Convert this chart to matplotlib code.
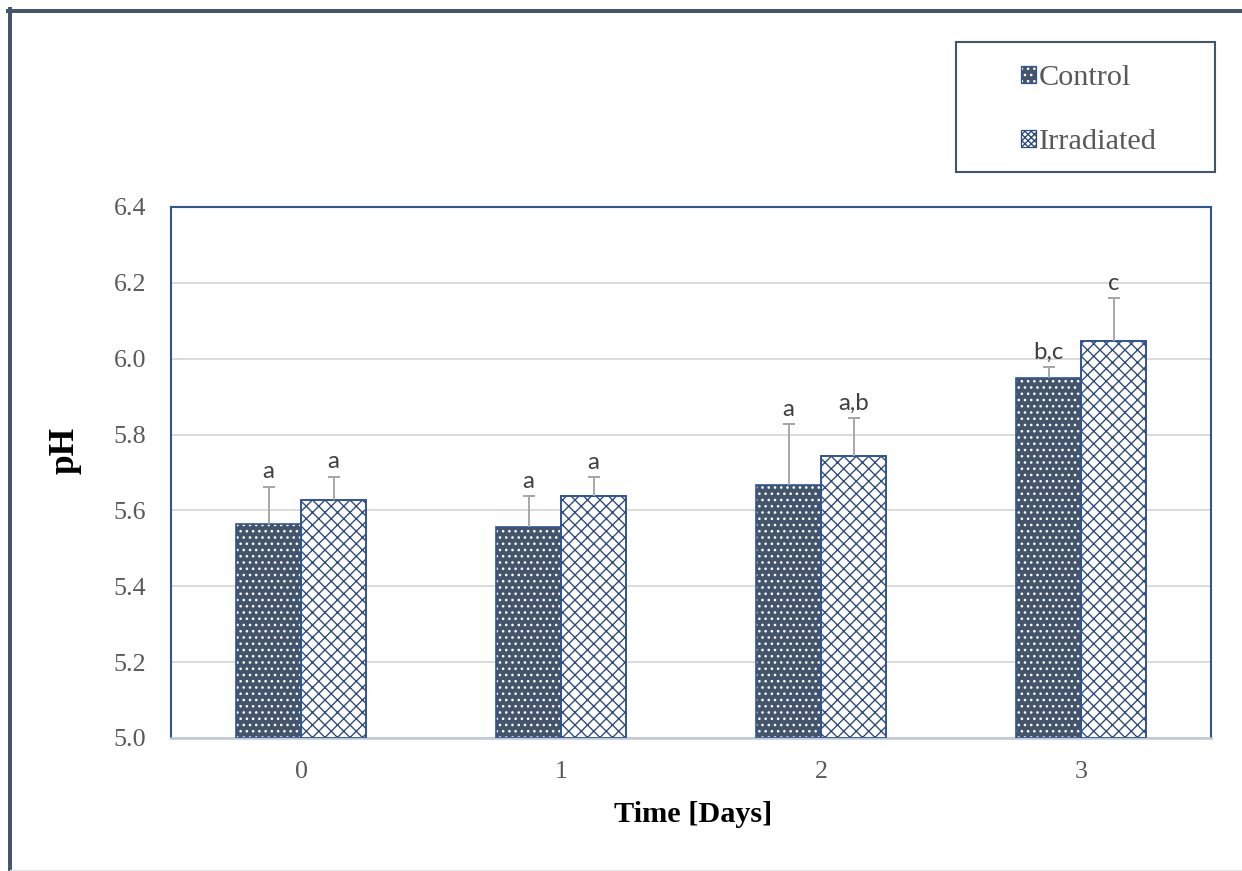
import numpy as np
import matplotlib.pyplot as plt
from matplotlib.patches import Patch, Rectangle
from matplotlib.lines import Line2D
from matplotlib.legend_handler import HandlerTuple

days = ["0", "1", "2", "3"]
control = [5.565, 5.555, 5.667, 5.950]
control_err = [0.098, 0.083, 0.160, 0.027]
irradiated = [5.627, 5.638, 5.743, 6.047]
irradiated_err = [0.062, 0.050, 0.100, 0.112]
control_letters = ["a", "a", "a", "b,c"]
irradiated_letters = ["a", "a", "a,b", "c"]
yticks = [5.0, 5.2, 5.4, 5.6, 5.8, 6.0, 6.2, 6.4]

W, H, DPI = 1242, 871, 75
DARK = "#44546A"
NAVY = "#2F5597"
HATCH = "#2E4A7A"
GREY_TXT = "#595959"

plt.rcParams["hatch.linewidth"] = 1.3

fig = plt.figure(figsize=(W / DPI, H / DPI), dpi=DPI)
ax = fig.add_axes([171 / W, 1 - 738 / H, 1040 / W, 531 / H])

x = np.arange(len(days))
bw = 0.25

# control: dark fill with white dots, navy outline
ax.bar(x - bw / 2, np.array(control) - 5.0, bw, bottom=5.0, color=DARK,
       edgecolor="white", hatch="..", linewidth=0, zorder=2)
ax.bar(x - bw / 2, np.array(control) - 5.0, bw, bottom=5.0, fill=False,
       edgecolor=NAVY, linewidth=1.6, zorder=3)
# irradiated: white with navy cross hatch
ax.bar(x + bw / 2, np.array(irradiated) - 5.0, bw, bottom=5.0, color="white",
       edgecolor=HATCH, hatch="xx", linewidth=1.6, zorder=2)
ax.bar(x + bw / 2, np.array(irradiated) - 5.0, bw, bottom=5.0, fill=False,
       edgecolor=NAVY, linewidth=1.6, zorder=3)

for xs, vals, errs in [(x - bw / 2, control, control_err),
                       (x + bw / 2, irradiated, irradiated_err)]:
    _, caps, _ = ax.errorbar(xs, vals, yerr=[np.zeros(len(vals)), errs],
                             fmt="none", ecolor="#A5A5A5", elinewidth=1.8,
                             capsize=5.8, capthick=1.9, zorder=4)
    for c in caps:
        if np.allclose(c.get_ydata(), vals):
            c.set_visible(False)
        else:
            c.set_color(NAVY)

for xs, vals, errs, labs in [(x - bw / 2, control, control_err, control_letters),
                             (x + bw / 2, irradiated, irradiated_err, irradiated_letters)]:
    for xi, v, e, lab in zip(xs, vals, errs, labs):
        ax.annotate(lab, (xi, v + e), xytext=(0, 8), textcoords="offset points",
                    ha="center", va="baseline", fontsize=23, family="Lato",
                    color="#404040")

ax.set_xlim(-0.5, 3.5)
ax.set_ylim(5.0, 6.4)
ax.set_yticks(yticks)
ax.set_yticklabels([f"{t:.1f}" for t in yticks])
ax.set_xticks(x)
ax.set_xticklabels(days)
ax.tick_params(axis="both", length=0, labelsize=25, labelcolor=GREY_TXT)
ax.tick_params(axis="x", pad=22)
ax.tick_params(axis="y", pad=24)
for lab in ax.get_xticklabels() + ax.get_yticklabels():
    lab.set_family("Liberation Serif")

ax.grid(axis="y", color="#D9D9D9", linewidth=1.8, zorder=0)
ax.set_axisbelow(True)
for s in ["left", "top", "right"]:
    ax.spines[s].set_color(NAVY)
    ax.spines[s].set_linewidth(2)
ax.spines["bottom"].set_color("#BFC8D6")
ax.spines["bottom"].set_linewidth(2.4)

fig.text(693 / W, 1 - 815 / H, "Time [Days]", ha="center", va="center",
         fontsize=29, fontweight="bold", family="Liberation Serif")
fig.text(65 / W, 1 - 450 / H, "pH", ha="center", va="center", rotation=90,
         fontsize=34, fontweight="bold", family="Liberation Serif")

# legend box
fig.patches.append(Rectangle((956 / W, 1 - 172 / H), 259 / W, 130 / H,
                             transform=fig.transFigure, fill=False,
                             edgecolor=DARK, linewidth=2))
h_ctrl = (Patch(facecolor=DARK, edgecolor="white", hatch="..", linewidth=0),
          Patch(fill=False, edgecolor=NAVY, linewidth=1.2))
h_irr = Patch(facecolor="white", edgecolor=HATCH, hatch="xxxx", linewidth=1.2)
leg = fig.legend([h_ctrl, h_irr], ["Control", "Irradiated"],
                 handler_map={tuple: HandlerTuple(ndivide=1, pad=0)},
                 loc="center", bbox_to_anchor=(1089 / W, 1 - 110 / H),
                 frameon=False, prop={"family": "Liberation Serif", "size": 29},
                 handlelength=0.48, handleheight=0.48, handletextpad=0.1,
                 labelspacing=1.25, labelcolor=GREY_TXT)

# outer frame
fig.add_artist(Line2D([8 / W, 1], [1 - 10.5 / H, 1 - 10.5 / H],
                      transform=fig.transFigure, color=DARK, linewidth=3.8))
fig.add_artist(Line2D([10 / W, 10 / W], [0, 1 - 9 / H],
                      transform=fig.transFigure, color=DARK, linewidth=3.8))
fig.add_artist(Line2D([10 / W, 1], [1.5 / H, 1.5 / H],
                      transform=fig.transFigure, color="#E6E6E6", linewidth=1.2))

fig.savefig("out.png", dpi=DPI)
